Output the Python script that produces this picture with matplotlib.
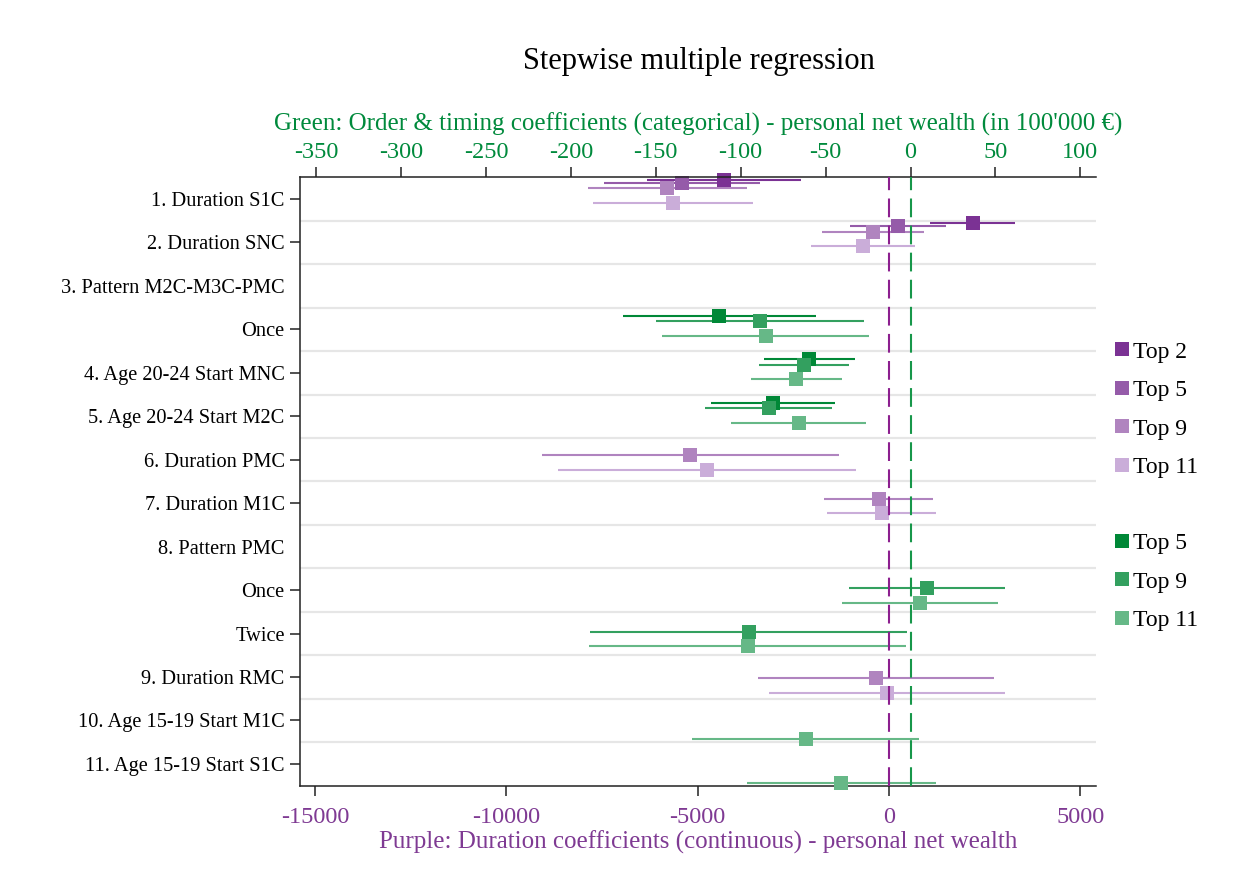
import numpy as np
import matplotlib
matplotlib.use('Agg')
import matplotlib.pyplot as plt
from matplotlib.lines import Line2D
from matplotlib.transforms import blended_transform_factory

plt.rcParams['font.family'] = ['Liberation Serif', 'DejaVu Serif']
plt.rcParams['axes.unicode_minus'] = False

# Row labels, top to bottom (rows 2 and 8 are group headers)
row_labels = ['1. Duration S1C', '2. Duration SNC', '3. Pattern M2C-M3C-PMC', 'Once',
              '4. Age 20-24 Start MNC', '5. Age 20-24 Start M2C', '6. Duration PMC',
              '7. Duration M1C', '8. Pattern PMC', 'Once', 'Twice', '9. Duration RMC',
              '10. Age 15-19 Start M1C', '11. Age 15-19 Start S1C']
header_rows = [2, 8]

# Duration coefficients (continuous), bottom axis: rows, estimate, CI low, CI high
dur_top2_rows = [0, 1]
dur_top2_b = [-4315, 2193]
dur_top2_lo = [-6312, 1072]
dur_top2_hi = [-2308, 3293]

dur_top5_rows = [0, 1]
dur_top5_b = [-5416, 233]
dur_top5_lo = [-7441, -1009]
dur_top5_hi = [-3372, 1500]

dur_top9_rows = [0, 1, 6, 7, 11]
dur_top9_b = [-5808, -421, -5201, -264, -348]
dur_top9_lo = [-7862, -1756, -9067, -1691, -3427]
dur_top9_hi = [-3717, 912, -1317, 1155, 2734]

dur_top11_rows = [0, 1, 6, 7, 11]
dur_top11_b = [-5640, -682, -4762, -188, -58]
dur_top11_lo = [-7731, -2036, -8654, -1607, -3147]
dur_top11_hi = [-3549, 669, -860, 1239, 3021]

# Order & timing coefficients (categorical, in 100'000 EUR), top axis
ord_top5_rows = [3, 4, 5]
ord_top5_b = [-112.6, -59.6, -80.9]
ord_top5_lo = [-169.2, -86.1, -117.7]
ord_top5_hi = [-55.6, -32.9, -44.7]

ord_top9_rows = [3, 4, 5, 9, 10]
ord_top9_b = [-88.6, -62.5, -83.4, 9.6, -95.2]
ord_top9_lo = [-149.6, -89.3, -121.0, -36.5, -188.5]
ord_top9_hi = [-27.6, -36.0, -46.2, 55.4, -1.8]

ord_top11_rows = [3, 4, 5, 9, 10, 12, 13]
ord_top11_b = [-85.3, -67.4, -65.7, 5.6, -95.8, -61.7, -41.1]
ord_top11_lo = [-146.3, -93.7, -105.5, -40.3, -189.4, -128.4, -96.0]
ord_top11_hi = [-24.3, -40.5, -26.1, 51.5, -2.6, 4.8, 14.8]

# vertical placement inside each row
row_shift = [0.092, 0.092, 0, 0.152, 0.152, 0.152, 0.226, 0.226, 0, 0.292, 0.292, 0.357, 0.43, 0.43]
model_offset = {'Top 2': -0.53, 'Top 5': -0.467, 'Top 9': -0.334, 'Top 11': 0.0}

purple = {'Top 2': '#7b3294', 'Top 5': '#955ba9', 'Top 9': '#b084bf', 'Top 11': '#caadd9'}
green = {'Top 5': '#008837', 'Top 9': '#33a05f', 'Top 11': '#66b887'}
purple_text = '#7f3a93'
green_text = '#008a3c'

dur_series = [('Top 2', dur_top2_rows, dur_top2_b, dur_top2_lo, dur_top2_hi),
              ('Top 5', dur_top5_rows, dur_top5_b, dur_top5_lo, dur_top5_hi),
              ('Top 9', dur_top9_rows, dur_top9_b, dur_top9_lo, dur_top9_hi),
              ('Top 11', dur_top11_rows, dur_top11_b, dur_top11_lo, dur_top11_hi)]
ord_series = [('Top 5', ord_top5_rows, ord_top5_b, ord_top5_lo, ord_top5_hi),
              ('Top 9', ord_top9_rows, ord_top9_b, ord_top9_lo, ord_top9_hi),
              ('Top 11', ord_top11_rows, ord_top11_b, ord_top11_lo, ord_top11_hi)]

fig = plt.figure(figsize=(12.6, 8.82), dpi=100)
ax = fig.add_axes([0.2381, 0.1092, 0.6317, 0.6898])
ax2 = ax.twiny()


def draw(axis, series, colors):
    for name, rows, b, lo, hi in series:
        y = np.array(rows) + np.array([row_shift[r] for r in rows]) + model_offset[name]
        axis.hlines(y, lo, hi, color=colors[name], lw=1.5, zorder=3)
        axis.plot(b, y, 's', ms=10, color=colors[name], mec=colors[name], mew=0,
                  zorder=4, clip_on=False)


for i in range(len(row_labels) - 1):
    ax.axhline(i + 0.5, color='#e6e6e6', lw=1.6, zorder=1)

draw(ax, dur_series, purple)
draw(ax2, ord_series, green)

# zero reference lines for both scales
ax2.add_line(Line2D([0, 0], [0, 1], transform=blended_transform_factory(ax.transData, ax2.transAxes),
                    color='#8c1f8f', lw=1.5, ls=(0, (9, 4)), zorder=5))
ax2.add_line(Line2D([0, 0], [0, 1], transform=blended_transform_factory(ax2.transData, ax2.transAxes),
                    color='#17974a', lw=1.5, ls=(0, (9, 4)), zorder=5))

ax.set_xlim(-15395, 5410)
ax2.set_xlim(-359.5, 109.2)
ax.set_ylim(13.5, -0.5)

ax.set_yticks(range(len(row_labels)))
ax.set_yticklabels(row_labels, fontsize=14.7)
for i in header_rows:
    ax.yaxis.get_major_ticks()[i].tick1line.set_visible(False)
ax.tick_params(axis='y', length=7, width=1.1, pad=4, color='#222222')

ax.set_xticks([-15000, -10000, -5000, 0, 5000])
ax.tick_params(axis='x', length=7, width=1.1, pad=8.5, labelsize=17.5, labelcolor=purple_text, color='#222222')
ax.set_xlabel('Purple: Duration coefficients (continuous) - personal net wealth',
              fontsize=18, color=purple_text, labelpad=2)

ax2.set_xticks([-350, -300, -250, -200, -150, -100, -50, 0, 50, 100])
ax2.tick_params(axis='x', length=7, width=1.1, pad=3, labelsize=17.5, labelcolor=green_text, color='#222222')
ax2.set_xlabel("Green: Order & timing coefficients (categorical) - personal net wealth (in 100'000 €)",
               fontsize=18, color=green_text, labelpad=8.5)

for a in (ax, ax2):
    for s in a.spines.values():
        s.set_visible(False)
for s in ('left', 'bottom'):
    ax.spines[s].set_visible(True)
    ax.spines[s].set_linewidth(1.1)
    ax.spines[s].set_color('#222222')
ax2.spines['top'].set_visible(True)
ax2.spines['top'].set_linewidth(1.1)
ax2.spines['top'].set_color('#222222')

fig.text(0.555, 0.93, 'Stepwise multiple regression', fontsize=22, ha='center', va='center')

# legend: purple models, a blank spacer, then green models
handles, labels = [], []
for name in ['Top 2', 'Top 5', 'Top 9', 'Top 11']:
    handles.append(Line2D([], [], ls='none', marker='s', ms=10, mew=0, color=purple[name]))
    labels.append(name)
handles.append(Line2D([], [], ls='none'))
labels.append(' ')
for name in ['Top 5', 'Top 9', 'Top 11']:
    handles.append(Line2D([], [], ls='none', marker='s', ms=10, mew=0, color=green[name]))
    labels.append(name)
leg = fig.legend(handles, labels, loc='upper left', bbox_to_anchor=(1115 / 1260, 1 - 341 / 882),
                 frameon=False, fontsize=17, handlelength=0.6, handletextpad=0.15,
                 labelspacing=0.72, borderpad=0, borderaxespad=0)
leg.get_texts()[4].set_fontsize(14)

fig.savefig('out.png', dpi=100, facecolor='white')
